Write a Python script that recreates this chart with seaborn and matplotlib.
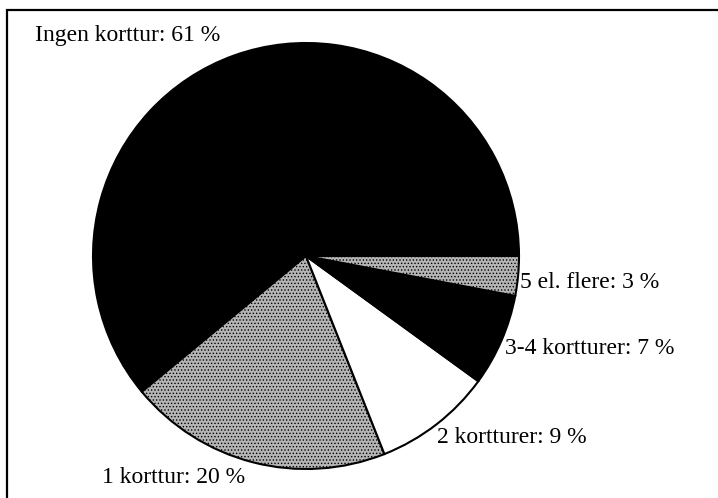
import matplotlib
matplotlib.use('Agg')
import matplotlib.pyplot as plt
import seaborn as sns

sns.set_theme(style='white')
plt.rcParams['font.family'] = ['Liberation Serif', 'DejaVu Serif']
plt.rcParams['hatch.linewidth'] = 0.6

# Data
kategorier = ['Ingen korttur', '1 korttur', '2 kortturer', '3-4 kortturer', '5 el. flere']
andel = [61, 20, 9, 7, 3]
farver = ['black', '#b5b5b5', 'white', 'black', '#b5b5b5']
moenster = [None, '.....', None, None, '.....']

fig = plt.figure(figsize=(7.18, 4.98), dpi=100)

# ramme rundt om figuren
fig.patches.append(plt.Rectangle((7 / 718, -0.05), 1.0, 1 - 10 / 498 + 0.05,
                                 transform=fig.transFigure, fill=False,
                                 edgecolor='black', linewidth=1.6))

# cirkel: centrum ca. (306, 256) px, radius ca. 213 px
ax = fig.add_axes([93 / 718, (498 - 469) / 498, 426 / 718, 426 / 498])
wedges, _ = ax.pie(andel, colors=farver, startangle=0, counterclock=True,
                   wedgeprops=dict(edgecolor='black', linewidth=1.5))
for w, h in zip(wedges, moenster):
    if h:
        w.set_hatch(h)
ax.set_xlim(-1, 1)
ax.set_ylim(-1, 1)

# etiketter (pixelpositioner i figuren)
etiket_pos = {
    'Ingen korttur': (35, 35),
    '1 korttur': (102, 477),
    '2 kortturer': (437, 437),
    '3-4 kortturer': (505, 348),
    '5 el. flere': (520, 282),
}
for k, v in zip(kategorier, andel):
    x, y = etiket_pos[k]
    fig.text(x / 718, 1 - y / 498, f'{k}: {v} %', fontsize=17,
             ha='left', va='center', color='black')

fig.savefig('out.png', dpi=100)
